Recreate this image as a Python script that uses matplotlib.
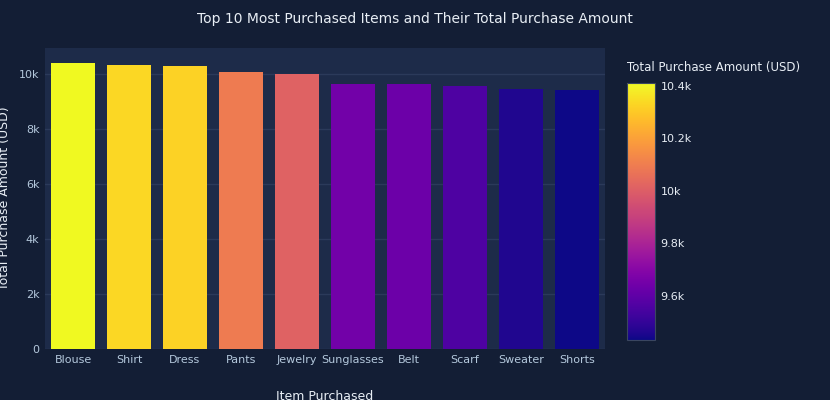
import matplotlib
matplotlib.use("Agg")
import matplotlib.pyplot as plt
import numpy as np
from matplotlib import cm, colors

items = ["Blouse","Shirt","Dress","Pants","Jewelry","Sunglasses","Belt","Scarf","Sweater","Shorts"]
amounts = [10410,10332,10320,10090,10010,9649,9635,9561,9462,9433]
yticks = [0,2000,4000,6000,8000,10000]
ytick_labels = ["0","2k","4k","6k","8k","10k"]
cb_ticks = [9600,9800,10000,10200,10400]
cb_labels = ["9.6k","9.8k","10k","10.2k","10.4k"]

paper = "#131e35"
plotbg = "#1d2b49"
grid = "#2b3a5a"
txt = "#e8eef5"
tick = "#b4c8dc"

fig = plt.figure(figsize=(8.3,4.0), dpi=100, facecolor=paper)
ax = fig.add_axes([45/830, 1-349/400, 560/830, 301/400], facecolor=plotbg)
norm = colors.Normalize(vmin=min(amounts), vmax=max(amounts))
cmap = plt.get_cmap("plasma")
x = np.arange(len(items))
ax.bar(x, amounts, width=0.78, color=cmap(norm(amounts)), zorder=3)
ax.set_xlim(-0.5, len(items)-0.5)
ax.set_ylim(0, 10958)
ax.set_yticks(yticks)
ax.set_yticklabels(ytick_labels)
ax.set_xticks(x)
ax.set_xticklabels(items)
ax.grid(axis="y", color=grid, linewidth=1, zorder=0)
for s in ax.spines.values():
    s.set_visible(False)
ax.tick_params(colors=tick, length=0, labelsize=8, pad=4)
ax.set_xlabel("Item Purchased", color=txt, fontsize=9, labelpad=18)
ax.set_ylabel("Total Purchase Amount (USD)", color=txt, fontsize=9, labelpad=6)
fig.text(0.5, 1-19/400, "Top 10 Most Purchased Items and Their Total Purchase Amount",
         ha="center", va="center", color=txt, fontsize=10)

cax = fig.add_axes([627/830, 1-340/400, 28/830, 257/400])
cb = fig.colorbar(cm.ScalarMappable(norm=norm, cmap=cmap), cax=cax)
cb.set_ticks(cb_ticks)
cb.set_ticklabels(cb_labels)
cb.outline.set_edgecolor("#3a4660")
cax.tick_params(colors=txt, length=0, labelsize=8, pad=4)
fig.text(627/830, 1-68/400, "Total Purchase Amount (USD)", ha="left", va="center",
         color=txt, fontsize=8.5)

fig.savefig("out.png", facecolor=paper)
